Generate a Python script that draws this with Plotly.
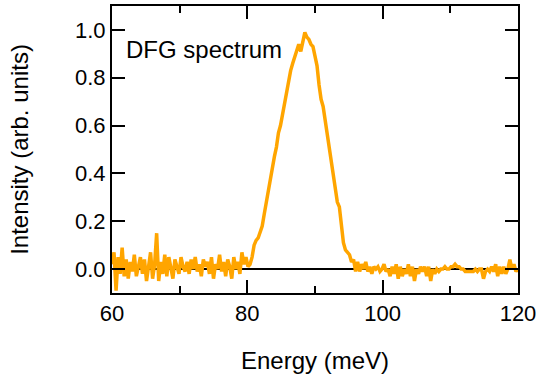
import numpy as np
import plotly.graph_objects as go

# Energy grid (meV) and measured DFG intensity
energy_start, energy_stop = 60.0, 120.0
intensity = [
    0.02, 0.07, -0.09, 0.05, -0.02, 0.09, -0.03, 0.04, -0.04, 0.03,
    -0.01, 0.06, -0.03, 0.02, 0.05, -0.02, 0.04, -0.05, 0.01, 0.07,
    -0.04, 0.02, 0.15, -0.05, 0.03, -0.02, 0.06, -0.03, 0.05, 0.00,
    -0.04, 0.04, 0.01, -0.02, 0.05, 0.01, -0.01, 0.03, -0.02, 0.04,
    0.00, 0.05, -0.01, 0.02, -0.03, 0.04, 0.01, 0.03, -0.02, 0.05,
    -0.04, 0.02, 0.00, 0.06, -0.01, 0.03, -0.03, 0.04, 0.01, -0.04,
    0.05, 0.00, 0.03, -0.02, 0.07, 0.02, 0.05, 0.01, 0.02, 0.05,
    0.10, 0.12, 0.13, 0.16, 0.18, 0.23, 0.28, 0.33, 0.39, 0.44,
    0.47, 0.51, 0.57, 0.60, 0.65, 0.70, 0.74, 0.79, 0.83, 0.86,
    0.89, 0.92, 0.94, 0.91, 0.96, 0.99, 0.97, 0.96, 0.94, 0.93,
    0.89, 0.85, 0.77, 0.71, 0.68, 0.62, 0.58, 0.52, 0.45, 0.40,
    0.33, 0.28, 0.26, 0.18, 0.11, 0.08, 0.07, 0.06, 0.03, 0.04,
    -0.01, 0.03, -0.01, 0.02, 0.00, 0.03, -0.01, 0.01, -0.02, 0.01,
    0.00, 0.01, -0.01, 0.00, 0.02, -0.01, 0.00, -0.03, 0.01, -0.02,
    0.02, -0.04, 0.01, -0.03, 0.00, -0.02, 0.02, -0.03, 0.01, -0.05,
    0.00, -0.02, 0.01, -0.01, 0.01, -0.03, 0.01, -0.05, 0.00, -0.02,
    0.00, -0.01, 0.00, 0.00, 0.01, 0.00, 0.00, 0.01, 0.01, 0.02,
    0.01, 0.01, 0.00, 0.00, -0.01, -0.01, -0.01, -0.01, -0.01, 0.00,
    -0.01, 0.00, 0.00, -0.04, -0.01, 0.00, -0.01, 0.01, -0.01, 0.02,
    -0.03, 0.01, -0.02, 0.01, -0.02, 0.00, 0.04, 0.00, 0.02, -0.01,
    0.00,
]
energy = np.linspace(energy_start, energy_stop, len(intensity))

x_ticks = [60, 80, 100, 120]
y_ticks = [0.0, 0.2, 0.4, 0.6, 0.8, 1.0]
y_tick_labels = ["0.0", "0.2", "0.4", "0.6", "0.8", "1.0"]

FONT = "Liberation Sans, Arial, Helvetica, sans-serif"

fig = go.Figure()
fig.add_trace(go.Scatter(
    x=energy, y=intensity, mode="lines",
    line=dict(color="#FFA500", width=3.5),
    showlegend=False,
))

fig.update_layout(
    width=540, height=380,
    margin=dict(l=112, r=22, t=4, b=87),
    paper_bgcolor="white", plot_bgcolor="white",
    font=dict(family=FONT, size=22, color="black"),
    xaxis=dict(
        range=[60, 120], tickvals=x_ticks,
        ticks="inside", ticklen=13, tickwidth=2, tickcolor="black",
        showline=True, linecolor="black", linewidth=2, mirror="ticks",
        showgrid=False, zeroline=False,
        minor=dict(dtick=10, ticks="inside", ticklen=7, tickwidth=2, tickcolor="black", showgrid=False),
        title=dict(text="Energy (meV)", font=dict(size=24), standoff=27),
        tickfont=dict(size=22),
    ),
    yaxis=dict(
        range=[-0.1, 1.1], tickvals=y_ticks, ticktext=y_tick_labels,
        ticks="inside", ticklen=13, tickwidth=2, tickcolor="black",
        showline=True, linecolor="black", linewidth=2, mirror="ticks",
        showgrid=False,
        zeroline=True, zerolinecolor="black", zerolinewidth=1.5,
        title=dict(text="Intensity (arb. units)", font=dict(size=24), standoff=40),
        tickfont=dict(size=22),
    ),
    annotations=[dict(
        x=0.0, y=1.0, xref="paper", yref="paper",
        xanchor="left", yanchor="top", xshift=12, yshift=-28,
        text="DFG spectrum", showarrow=False,
        font=dict(size=24, family=FONT, color="black"),
    )],
)

fig.write_html("out.html")
